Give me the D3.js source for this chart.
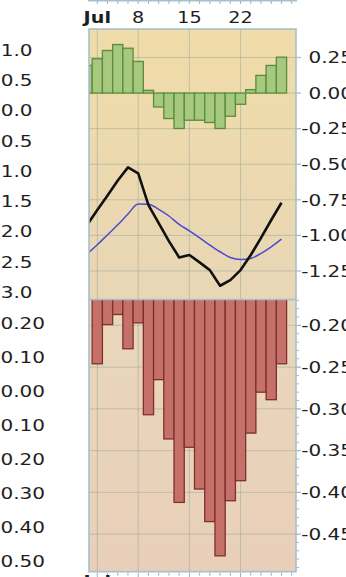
<!DOCTYPE html>
<html><head><meta charset="utf-8">
<script src="https://cdn.jsdelivr.net/npm/d3@7"></script>
<style>html,body{margin:0;padding:0;background:#fff;overflow:hidden}svg{display:block}</style>
</head><body>
<svg id="chart" width="346" height="577"></svg>
<script>
// ---- data ----
const days = ["Jun 28","Jul 1","Jul 2","Jul 3","Jul 5","Jul 8","Jul 9","Jul 10","Jul 11","Jul 12",
  "Jul 15","Jul 16","Jul 17","Jul 18","Jul 19","Jul 22","Jul 23","Jul 24","Jul 25","Jul 26"];
const histogram = [0.194,0.241,0.299,0.341,0.315,0.222,0.019,-0.098,-0.179,-0.249,
  -0.191,-0.191,-0.207,-0.249,-0.163,-0.079,0.024,0.124,0.194,0.252];
const mainLine = [-0.927,-0.822,-0.719,-0.615,-0.522,-0.564,-0.787,-0.914,-1.040,-1.155,
  -1.138,-1.190,-1.244,-1.354,-1.314,-1.244,-1.138,-1.017,-0.892,-0.771];
const signalLine = [-1.131,-1.066,-0.996,-0.926,-0.850,-0.780,-0.782,-0.817,-0.864,-0.923,
  -0.968,-1.017,-1.068,-1.115,-1.155,-1.169,-1.162,-1.126,-1.080,-1.026];
const lowerBars = [null,-0.246,-0.199,-0.187,-0.228,-0.197,-0.307,-0.265,-0.336,-0.412,
  -0.346,-0.396,-0.435,-0.476,-0.410,-0.386,-0.329,-0.280,-0.289,-0.246];
const weekTicks = ["Jul 1","Jul 8","Jul 15","Jul 22"];
const weekLabels = ["Jul","8","15","22"];
const rightTicksUpper = [0.25,0,-0.25,-0.5,-0.75,-1.0,-1.25];
const rightTicksLower = [-0.20,-0.25,-0.30,-0.35,-0.40,-0.45];
const leftLabelsUpper = [1.0,0.5,0.0,-0.5,-1.0,-1.5,-2.0,-2.5,-3.0];
const leftLabelsLower = [0.20,0.10,0.00,-0.10,-0.20,-0.30,-0.40,-0.50];

(function () {
// ---- layout ----
const svg = d3.select("#chart");
const L = 89, R = 296, T = 29, MID = 299.5, B = 571.7;
const idx = d => days.indexOf(d);
const x = d3.scaleLinear().domain([0.19, 20.42]).range([L, R]);
const bw = x(1) - x(0);
const yU = d3.scaleLinear().domain([0.45, -1.44]).range([T, MID - 1.5]);
const yLo = d3.scaleLinear().domain([-0.169, -0.495]).range([MID, B]);
const yLeftU = d3.scaleLinear().domain([1.0, -3.0]).range([50, 292]);
const yLeftL = d3.scaleLinear().domain([0.20, -0.50]).range([323.5, 560.8]);

const FONT = "DejaVu Sans, Verdana, sans-serif";
const SX = 1.25;
function label(g, tx, ty, txt, anchor, opts = {}) {
  return g.append("text")
    .attr("transform", `translate(${tx},${ty}) scale(${opts.sx || SX},1)`)
    .attr("text-anchor", anchor)
    .attr("font-family", FONT)
    .attr("font-size", opts.size || 16)
    .attr("font-weight", opts.bold ? "bold" : "normal")
    .attr("fill", "#1e1e1e")
    .text(txt);
}
const fmt2 = v => d3.format(".2f")(v).replace("−","-");
const fmt1 = v => d3.format(".1f")(v).replace("−","-");

const defs = svg.append("defs");
const g1 = defs.append("linearGradient").attr("id","bgU").attr("x1",0).attr("y1",0).attr("x2",0).attr("y2",1);
g1.append("stop").attr("offset","0%").attr("stop-color","#f0dca8");
g1.append("stop").attr("offset","100%").attr("stop-color","#e8d6b6");
const g2 = defs.append("linearGradient").attr("id","bgL").attr("x1",0).attr("y1",0).attr("x2",0).attr("y2",1);
g2.append("stop").attr("offset","0%").attr("stop-color","#e9d7ba");
g2.append("stop").attr("offset","100%").attr("stop-color","#e9cfba");
defs.append("clipPath").attr("id","clipU").append("rect").attr("x",L).attr("y",T).attr("width",R-L).attr("height",MID-T);
defs.append("clipPath").attr("id","clipL").append("rect").attr("x",L).attr("y",MID).attr("width",R-L).attr("height",B-MID);

// backgrounds
svg.append("rect").attr("x",L).attr("y",T).attr("width",R-L).attr("height",MID-T).attr("fill","url(#bgU)");
svg.append("rect").attr("x",L).attr("y",MID).attr("width",R-L).attr("height",B-MID).attr("fill","url(#bgL)");

const gridCol = "rgba(120,150,150,0.38)";
svg.append("g").selectAll("line").data(weekTicks).join("line")
  .attr("x1", d => x(idx(d))).attr("x2", d => x(idx(d)))
  .attr("y1", T).attr("y2", B).attr("stroke", gridCol).attr("stroke-width", 1);
svg.append("g").selectAll("line").data(rightTicksUpper).join("line")
  .attr("x1", L).attr("x2", R).attr("y1", d => yU(d)).attr("y2", d => yU(d))
  .attr("stroke", gridCol).attr("stroke-width", 1);
svg.append("g").selectAll("line").data(rightTicksLower).join("line")
  .attr("x1", L).attr("x2", R).attr("y1", d => yLo(d)).attr("y2", d => yLo(d))
  .attr("stroke", gridCol).attr("stroke-width", 1);

// green histogram
const hist = svg.append("g").attr("clip-path","url(#clipU)");
hist.selectAll("rect").data(histogram).join("rect")
  .attr("x", (d,i) => x(i) - bw/2)
  .attr("width", bw)
  .attr("y", d => yU(Math.max(d,0)))
  .attr("height", d => Math.abs(yU(d) - yU(0)))
  .attr("fill", "#a6c97f").attr("stroke", "#5b8c3b").attr("stroke-width", 1.3);

// lines
const lines = svg.append("g").attr("clip-path","url(#clipU)");
lines.append("path").datum(signalLine)
  .attr("d", d3.line().x((d,i)=>x(i)).y(d=>yU(d)).curve(d3.curveMonotoneX))
  .attr("fill","none").attr("stroke","#4a4ad2").attr("stroke-width",1.5);
lines.append("path").datum(mainLine)
  .attr("d", d3.line().x((d,i)=>x(i)).y(d=>yU(d)))
  .attr("fill","none").attr("stroke","#111").attr("stroke-width",2.6).attr("stroke-linejoin","round");

// red bars hanging from top of lower panel
const low = svg.append("g").attr("clip-path","url(#clipL)");
low.selectAll("rect").data(lowerBars.map((v,i)=>({v,i})).filter(d=>d.v!==null)).join("rect")
  .attr("x", d => x(d.i) - bw/2)
  .attr("width", bw)
  .attr("y", yLo.range()[0] - 2)
  .attr("height", d => yLo(d.v) - yLo.range()[0] + 2)
  .attr("fill", "#c6706a").attr("stroke", "#7f302c").attr("stroke-width", 1.3);

// frame
const frameCol = "#a5c0cd";
svg.append("rect").attr("x",L).attr("y",T).attr("width",R-L).attr("height",B-T)
  .attr("fill","none").attr("stroke",frameCol).attr("stroke-width",1.6);
svg.append("line").attr("x1",L).attr("x2",R).attr("y1",MID).attr("y2",MID)
  .attr("stroke",frameCol).attr("stroke-width",1.6);

// right axes
const axU = svg.append("g");
axU.selectAll("line").data(rightTicksUpper).join("line")
  .attr("x1",R).attr("x2",R+5).attr("y1",d=>yU(d)).attr("y2",d=>yU(d))
  .attr("stroke",frameCol).attr("stroke-width",1.3);
rightTicksUpper.forEach(v => label(axU, 353, yU(v)+5.8, fmt2(v), "end"));
const axL = svg.append("g");
axL.selectAll("line.minor").data(d3.range(-0.17, -0.495, -0.01)).join("line")
  .attr("x1",R).attr("x2",R+3).attr("y1",d=>yLo(d)).attr("y2",d=>yLo(d))
  .attr("stroke",frameCol).attr("stroke-width",1);
axL.selectAll("line.major").data(rightTicksLower).join("line")
  .attr("x1",R).attr("x2",R+5).attr("y1",d=>yLo(d)).attr("y2",d=>yLo(d))
  .attr("stroke",frameCol).attr("stroke-width",1.3);
rightTicksLower.forEach(v => label(axL, 353, yLo(v)+5.8, fmt2(v), "end"));

// left labels (cut-off axis)
const lf = svg.append("g");
leftLabelsUpper.forEach(v => label(lf, 32.5, yLeftU(v)+5.8, fmt1(v), "end"));
leftLabelsLower.forEach(v => label(lf, 45, yLeftL(v)+5.8, fmt2(v), "end"));

// top date axis (bottom of an upper panel)
const topAx = svg.append("g");
topAx.append("line").attr("x1",L-1).attr("x2",R+1).attr("y1",0.8).attr("y2",0.8).attr("stroke",frameCol).attr("stroke-width",1.6);
topAx.selectAll("line.t").data(d3.range(1, 21)).join("line")
  .attr("x1",d=>x(d)).attr("x2",d=>x(d)).attr("y1",1).attr("y2",4)
  .attr("stroke","#9ab0bb").attr("stroke-width",1);
weekLabels.forEach((t,k) => label(topAx, x(idx(weekTicks[k])), 22.5, t, "middle", {bold: k===0, sx: 1.2}));

// bottom ticks (next panel's axis, mostly cut)
const bot = svg.append("g");
bot.selectAll("line").data(d3.range(1, 21)).join("line")
  .attr("x1",d=>x(d)).attr("x2",d=>x(d)).attr("y1",B+1).attr("y2",d => weekTicks.includes(days[d]) ? B+6 : B+4)
  .attr("stroke","#9ab0bb").attr("stroke-width",1);
label(bot, x(idx("Jul 1")), 586.5, "Jul", "middle", {bold: true, sx: 1.2});
})();
</script>
</body></html>
